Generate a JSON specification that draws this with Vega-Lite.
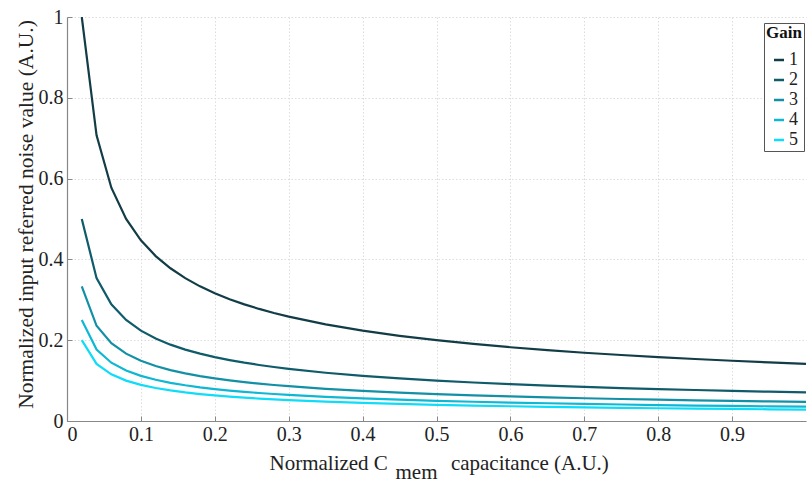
{
  "$schema": "https://vega.github.io/schema/vega-lite/v6.json",
  "autosize": "none",
  "width": 739,
  "height": 404,
  "padding": {"left": 67, "top": 17, "right": 4, "bottom": 61},
  "background": "white",
  "data": {"values": [
    {"x": 0.02, "g1": 1, "g2": 0.5, "g3": 0.3333, "g4": 0.25, "g5": 0.2},
    {"x": 0.04, "g1": 0.7071, "g2": 0.3536, "g3": 0.2357, "g4": 0.1768, "g5": 0.1414},
    {"x": 0.06, "g1": 0.5774, "g2": 0.2887, "g3": 0.1925, "g4": 0.1443, "g5": 0.1155},
    {"x": 0.08, "g1": 0.5, "g2": 0.25, "g3": 0.1667, "g4": 0.125, "g5": 0.1},
    {"x": 0.10, "g1": 0.4472, "g2": 0.2236, "g3": 0.1491, "g4": 0.1118, "g5": 0.0894},
    {"x": 0.12, "g1": 0.4082, "g2": 0.2041, "g3": 0.1361, "g4": 0.1021, "g5": 0.0816},
    {"x": 0.14, "g1": 0.378, "g2": 0.189, "g3": 0.126, "g4": 0.0945, "g5": 0.0756},
    {"x": 0.16, "g1": 0.3536, "g2": 0.1768, "g3": 0.1179, "g4": 0.0884, "g5": 0.0707},
    {"x": 0.18, "g1": 0.3333, "g2": 0.1667, "g3": 0.1111, "g4": 0.0833, "g5": 0.0667},
    {"x": 0.20, "g1": 0.3162, "g2": 0.1581, "g3": 0.1054, "g4": 0.0791, "g5": 0.0632},
    {"x": 0.22, "g1": 0.3015, "g2": 0.1508, "g3": 0.1005, "g4": 0.0754, "g5": 0.0603},
    {"x": 0.24, "g1": 0.2887, "g2": 0.1443, "g3": 0.0962, "g4": 0.0722, "g5": 0.0577},
    {"x": 0.26, "g1": 0.2774, "g2": 0.1387, "g3": 0.0925, "g4": 0.0693, "g5": 0.0555},
    {"x": 0.28, "g1": 0.2673, "g2": 0.1336, "g3": 0.0891, "g4": 0.0668, "g5": 0.0535},
    {"x": 0.30, "g1": 0.2582, "g2": 0.1291, "g3": 0.0861, "g4": 0.0645, "g5": 0.0516},
    {"x": 0.35, "g1": 0.239, "g2": 0.1195, "g3": 0.0797, "g4": 0.0598, "g5": 0.0478},
    {"x": 0.40, "g1": 0.2236, "g2": 0.1118, "g3": 0.0745, "g4": 0.0559, "g5": 0.0447},
    {"x": 0.45, "g1": 0.2108, "g2": 0.1054, "g3": 0.0703, "g4": 0.0527, "g5": 0.0422},
    {"x": 0.50, "g1": 0.2, "g2": 0.1, "g3": 0.0667, "g4": 0.05, "g5": 0.04},
    {"x": 0.55, "g1": 0.1907, "g2": 0.0953, "g3": 0.0636, "g4": 0.0477, "g5": 0.0381},
    {"x": 0.60, "g1": 0.1826, "g2": 0.0913, "g3": 0.0609, "g4": 0.0456, "g5": 0.0365},
    {"x": 0.65, "g1": 0.1754, "g2": 0.0877, "g3": 0.0585, "g4": 0.0439, "g5": 0.0351},
    {"x": 0.70, "g1": 0.169, "g2": 0.0845, "g3": 0.0563, "g4": 0.0423, "g5": 0.0338},
    {"x": 0.75, "g1": 0.1633, "g2": 0.0816, "g3": 0.0544, "g4": 0.0408, "g5": 0.0327},
    {"x": 0.80, "g1": 0.1581, "g2": 0.0791, "g3": 0.0527, "g4": 0.0395, "g5": 0.0316},
    {"x": 0.85, "g1": 0.1534, "g2": 0.0767, "g3": 0.0511, "g4": 0.0383, "g5": 0.0307},
    {"x": 0.90, "g1": 0.1491, "g2": 0.0745, "g3": 0.0497, "g4": 0.0373, "g5": 0.0298},
    {"x": 0.95, "g1": 0.1451, "g2": 0.0725, "g3": 0.0484, "g4": 0.0363, "g5": 0.029},
    {"x": 1.00, "g1": 0.1414, "g2": 0.0707, "g3": 0.0471, "g4": 0.0354, "g5": 0.0283}
  ]},
  "transform": [
    {"fold": ["g1", "g2", "g3", "g4", "g5"], "as": ["series", "y"]},
    {"lookup": "series", "from": {"data": {"values": [
      {"series": "g1", "Gain": "1"},
      {"series": "g2", "Gain": "2"},
      {"series": "g3", "Gain": "3"},
      {"series": "g4", "Gain": "4"},
      {"series": "g5", "Gain": "5"}
    ]}, "key": "series", "fields": ["Gain"]}}
  ],
  "mark": {"type": "line", "strokeWidth": 2.2, "clip": true},
  "encoding": {
    "x": {
      "field": "x", "type": "quantitative",
      "scale": {"domain": [0, 1], "nice": false, "zero": true},
      "axis": {
        "values": [0, 0.1, 0.2, 0.3, 0.4, 0.5, 0.6, 0.7, 0.8, 0.9],
        "format": "~g",
        "title": ["Normalized C\u2003\u2003\u2003capacitance (A.U.)", "\u200b\u2003\u2003\u2003\u2003\u2003\u2003mem"],
        "titleAlign": "left",
        "titleAnchor": "start",
        "titleBaseline": "alphabetic",
        "titleX": 202,
        "titleY": 48,
        "titleLineHeight": 9.5
      }
    },
    "y": {
      "field": "y", "type": "quantitative",
      "scale": {"domain": [0, 1], "nice": false},
      "axis": {
        "values": [0, 0.2, 0.4, 0.6, 0.8, 1],
        "format": "~g",
        "title": "Normalized input referred noise value (A.U.)",
        "titleBaseline": "alphabetic",
        "titleAlign": "center",
        "titleAngle": -90,
        "titleFontSize": 21.5,
        "titleX": -35,
        "titleY": 197
      }
    },
    "color": {
      "field": "Gain", "type": "nominal",
      "scale": {"domain": ["1", "2", "3", "4", "5"], "range": ["#123c46", "#0f5b6a", "#1290a6", "#0fb7d3", "#0fdcf8"]},
      "legend": {
        "orient": "none",
        "legendX": 697,
        "legendY": 6,
        "title": "Gain",
        "symbolType": "stroke",
        "symbolSize": 100,
        "symbolStrokeWidth": 2.5,
        "labelOffset": 1,
        "rowPadding": 2,
        "padding": 2,
        "strokeColor": "#555",
        "fillColor": "white",
        "titleAnchor": "middle",
        "titlePadding": 9
      }
    }
  },
  "config": {
    "font": "Times New Roman, Liberation Serif, serif",
    "view": {"stroke": null},
    "axis": {
      "labelFont": "Times New Roman, Liberation Serif, serif",
      "titleFont": "Times New Roman, Liberation Serif, serif",
      "labelFontSize": 20,
      "titleFontSize": 21,
      "titleFontWeight": "normal",
      "labelColor": "#222",
      "titleColor": "#222",
      "domainColor": "#888",
      "domainWidth": 1.2,
      "tickColor": "#888",
      "tickSize": 5,
      "labelPadding": 3,
      "gridColor": "#d4d4d4",
      "gridDash": [1.5, 2],
      "gridWidth": 0.8
    },
    "axisX": {"tickSize": -5, "labelPadding": 8},
    "axisY": {"tickSize": -5, "labelPadding": 9},
    "legend": {
      "labelFont": "Times New Roman, Liberation Serif, serif",
      "titleFont": "Times New Roman, Liberation Serif, serif",
      "labelFontSize": 18,
      "titleFontSize": 17,
      "titleFontWeight": "bold",
      "labelColor": "#222",
      "titleColor": "#111"
    }
  }
}
